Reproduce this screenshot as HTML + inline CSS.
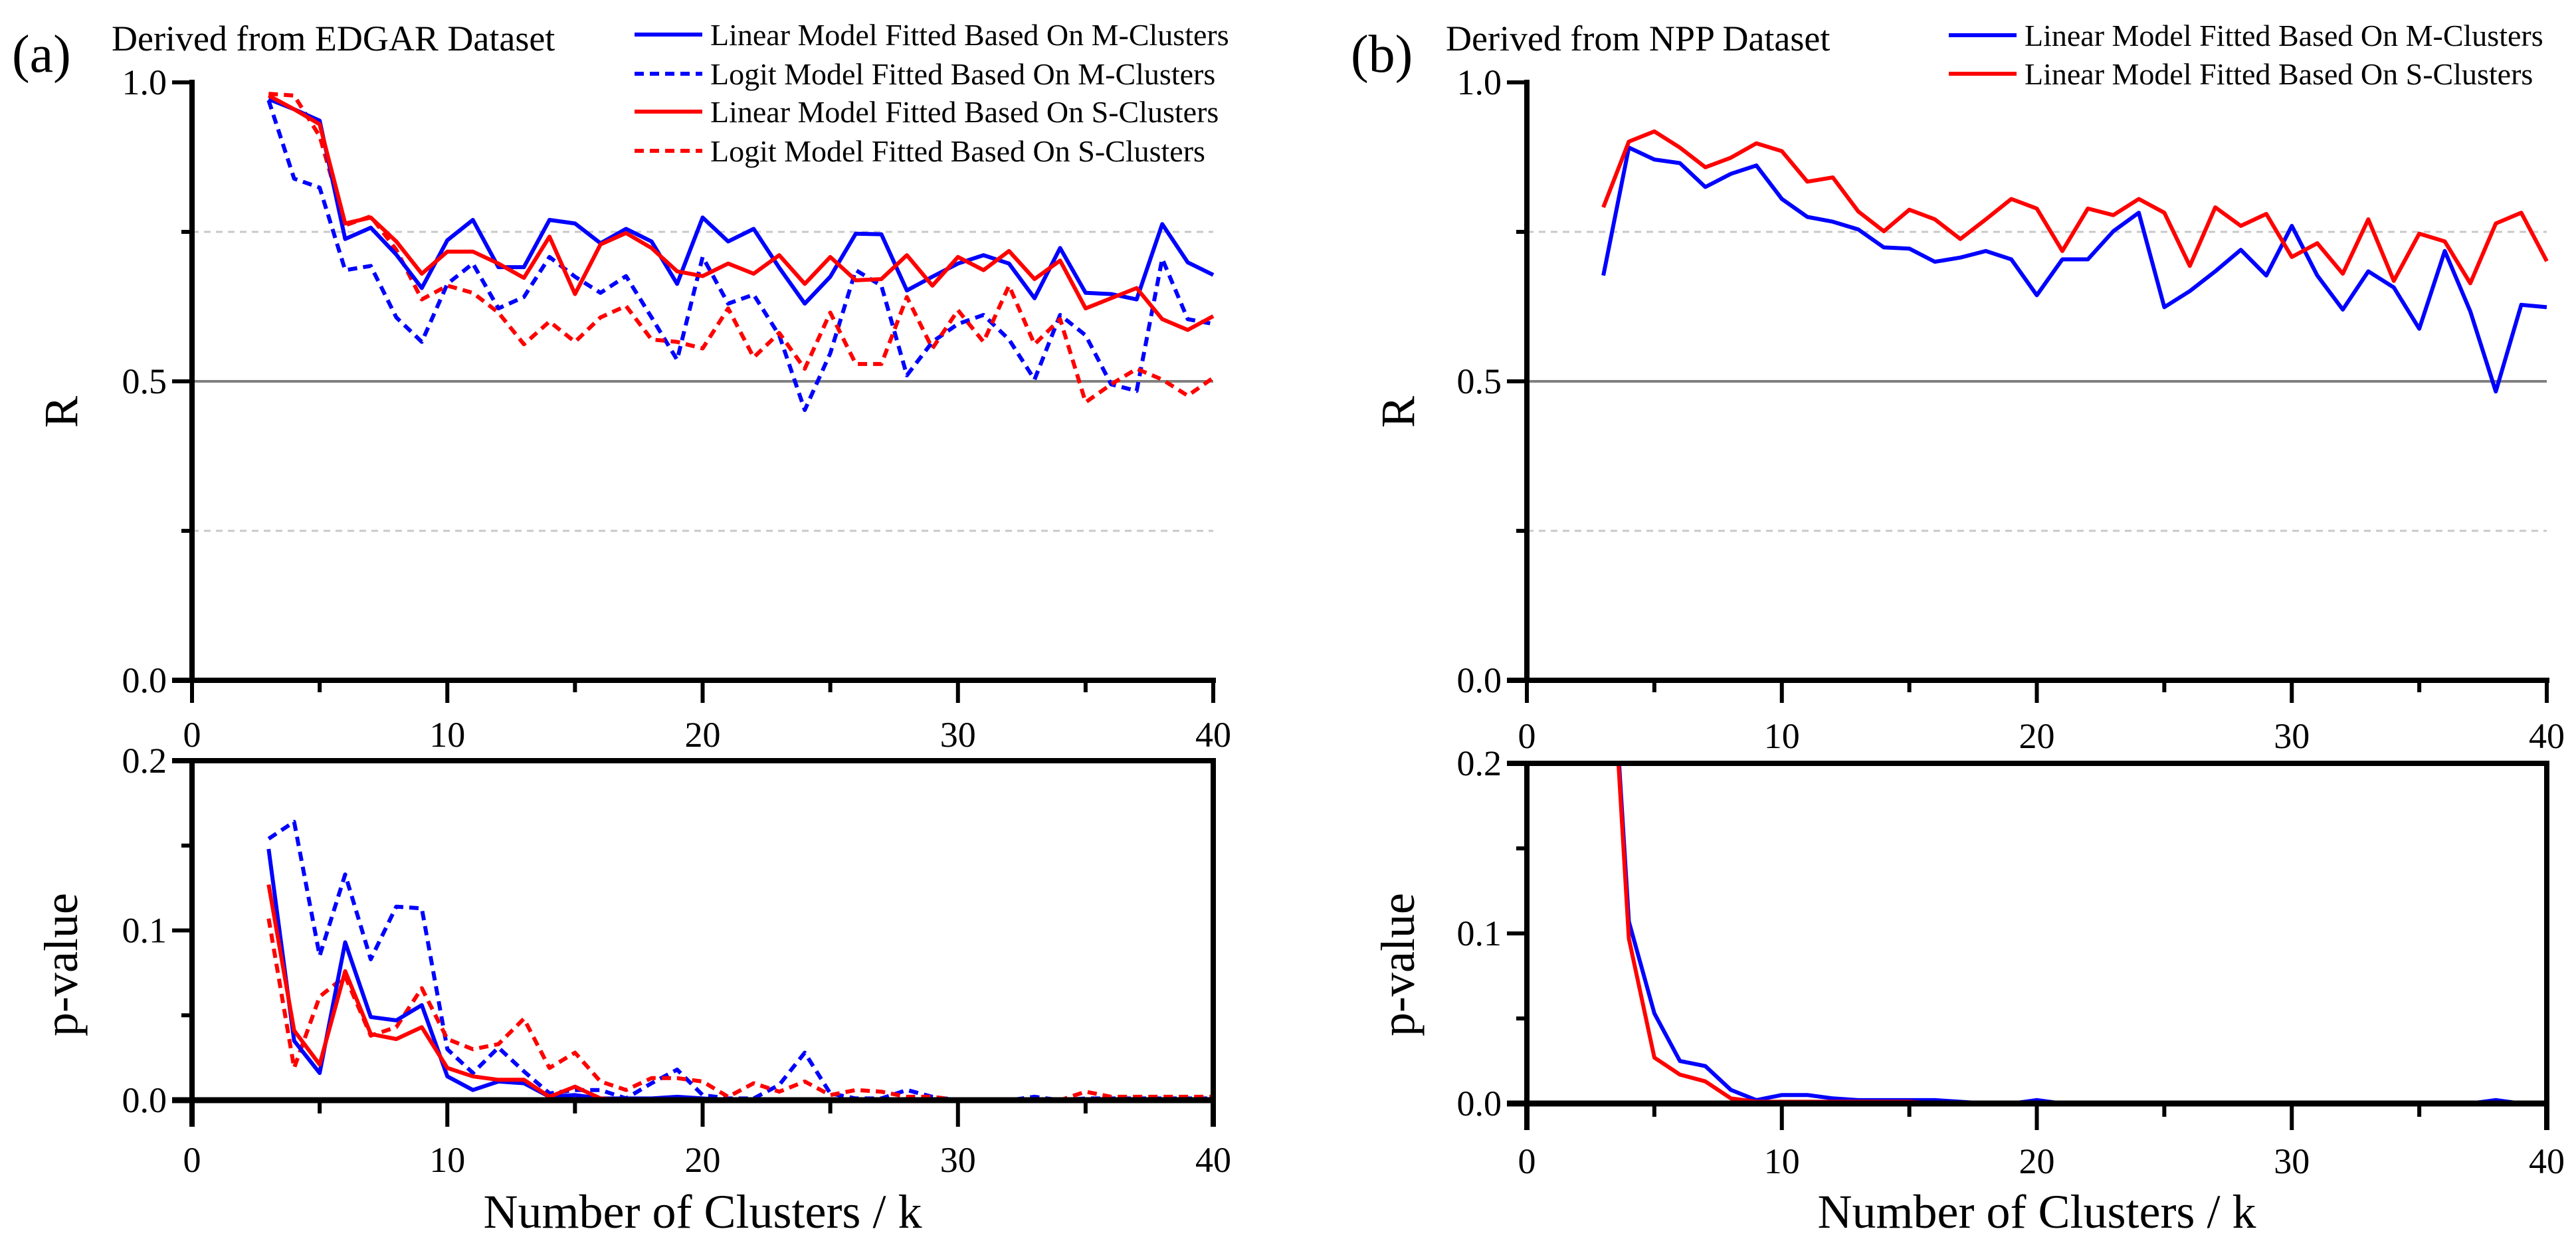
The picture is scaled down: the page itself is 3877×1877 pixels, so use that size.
<!DOCTYPE html>
<html><head><meta charset="utf-8">
<style>
html,body{margin:0;padding:0;background:#fff;}
svg{display:block;font-family:"Liberation Serif",serif;}
</style></head>
<body>
<svg id="fig" width="3877" height="1877" viewBox="0 0 3877 1877" xmlns="http://www.w3.org/2000/svg"></svg>
<script>
const ks = [3,4,5,6,7,8,9,10,11,12,13,14,15,16,17,18,19,20,21,22,23,24,25,26,27,28,29,30,31,32,33,34,35,36,37,38,39,40];
const xTicks = [0,10,20,30,40];
const rTicks = ["0.0","0.5","1.0"];
const pTicks = ["0.0","0.1","0.2"];
// Panel (a) R values
const aRLinM = [0.972,0.955,0.936,0.738,0.757,0.712,0.656,0.736,0.77,0.691,0.691,0.77,0.764,0.731,0.755,0.734,0.663,0.774,0.734,0.755,0.69,0.63,0.675,0.747,0.746,0.652,0.675,0.697,0.711,0.697,0.639,0.723,0.648,0.646,0.637,0.763,0.699,0.678];
const aRLogM = [0.97,0.839,0.824,0.686,0.693,0.607,0.566,0.663,0.697,0.622,0.641,0.708,0.675,0.648,0.676,0.607,0.536,0.708,0.63,0.645,0.577,0.452,0.547,0.686,0.66,0.51,0.566,0.596,0.611,0.57,0.503,0.611,0.577,0.495,0.484,0.705,0.604,0.596];
const aRLinS = [0.978,0.955,0.93,0.764,0.774,0.734,0.68,0.717,0.717,0.697,0.673,0.742,0.646,0.729,0.748,0.723,0.684,0.676,0.697,0.68,0.711,0.663,0.708,0.669,0.671,0.711,0.66,0.708,0.686,0.718,0.671,0.702,0.622,0.639,0.656,0.604,0.586,0.609];
const aRLogS = [0.981,0.978,0.91,0.761,0.776,0.72,0.637,0.66,0.648,0.615,0.562,0.6,0.566,0.607,0.626,0.57,0.566,0.555,0.622,0.54,0.581,0.521,0.615,0.529,0.529,0.641,0.555,0.619,0.566,0.66,0.562,0.604,0.465,0.495,0.521,0.503,0.476,0.506];
// Panel (a) p-values
const aPLinM = [0.148,0.035,0.016,0.093,0.049,0.047,0.056,0.014,0.006,0.011,0.01,0.002,0.003,0.001,0.001,0.001,0.002,0.001,0,0,0,0,0,0,0,0,0,0,0,0,0,0,0,0,0,0,0,0];
const aPLogM = [0.154,0.164,0.085,0.133,0.083,0.114,0.113,0.03,0.016,0.031,0.017,0.004,0.006,0.006,0.001,0.01,0.018,0.003,0.001,0.001,0.009,0.028,0.004,0.001,0.001,0.006,0.002,0,0,0,0.002,0,0.001,0.001,0.001,0.001,0.001,0.001];
const aPLinS = [0.127,0.041,0.021,0.076,0.039,0.036,0.043,0.019,0.014,0.012,0.012,0.002,0.008,0.001,0,0,0,0,0,0,0,0,0,0,0,0,0,0,0,0,0,0,0,0,0,0,0,0];
const aPLogS = [0.107,0.019,0.061,0.073,0.038,0.043,0.066,0.036,0.03,0.033,0.048,0.019,0.028,0.011,0.006,0.013,0.013,0.011,0.002,0.01,0.005,0.011,0.003,0.006,0.005,0.002,0.002,0,0,0,0,0,0.005,0.002,0.002,0.002,0.002,0.002];
// Panel (b)
const bRLinM = [0.677,0.891,0.871,0.865,0.825,0.847,0.861,0.805,0.775,0.767,0.754,0.724,0.722,0.7,0.707,0.718,0.704,0.644,0.704,0.704,0.751,0.782,0.624,0.651,0.684,0.72,0.677,0.76,0.677,0.62,0.684,0.657,0.588,0.718,0.617,0.483,0.628,0.624];
const bRLinS = [0.791,0.901,0.918,0.891,0.858,0.874,0.898,0.885,0.834,0.841,0.784,0.751,0.787,0.771,0.738,0.771,0.805,0.789,0.718,0.789,0.778,0.805,0.782,0.693,0.791,0.76,0.78,0.708,0.731,0.68,0.771,0.668,0.747,0.734,0.664,0.764,0.782,0.701];
const bPLinM = [0.35,0.107,0.053,0.025,0.022,0.008,0.002,0.005,0.005,0.003,0.002,0.002,0.002,0.002,0.001,0,0,0.002,0,0,0,0,0,0,0,0,0,0,0,0,0,0,0,0,0,0.002,0,0];
const bPLinS = [0.35,0.097,0.027,0.017,0.013,0.003,0.001,0.001,0.001,0.001,0.001,0.001,0.001,0,0,0,0,0,0,0,0,0,0,0,0,0,0,0,0,0,0,0,0,0,0,0,0,0];

const NS="http://www.w3.org/2000/svg";
const svg=document.getElementById('fig');
function mk(tag,attrs,parent){const e=document.createElementNS(NS,tag);for(const k in attrs)e.setAttribute(k,attrs[k]);(parent||svg).appendChild(e);return e;}
function txt(s,attrs,parent){const e=mk('text',attrs,parent);e.textContent=s;return e;}

const BLUE="#0000ff", RED="#ff0000";
function panel(cfg){
  const g=mk('g',{});
  
  
  const x0=cfg.x0,x1=cfg.x1;
  const sx=v=>x0+(x1-x0)*v/40;
  const rT=124,rB=1024;
  const sr=v=>rB-(rB-rT)*v;
  const pT=cfg.pT,pB=cfg.pB;
  const sp=v=>pB-(pB-pT)*v/0.2;
  [0.25,0.75].forEach(v=>{const l=mk('line',{x1:x0,x2:x1,y1:sr(v),y2:sr(v),stroke:'#c8c8c8','stroke-width':3,'stroke-dasharray':'10,8'},g);});
  const ml=mk('line',{x1:x0,x2:x1,y1:sr(0.5),y2:sr(0.5),stroke:'#808080','stroke-width':4},g);
  
  const cid=cfg.name+'-clip';
  const cp=mk('clipPath',{id:cid},g);mk('rect',{x:x0,y:pT,width:x1-x0+10,height:pB-pT+10},cp);
  function series(vals,scale,color,dash,name,clip){
    const pts=ks.map((k,i)=>sx(k).toFixed(1)+','+scale(vals[i]).toFixed(1)).join(' ');
    const a={points:pts,fill:'none',stroke:color,'stroke-width':6,'stroke-linejoin':'round'};
    if(dash)a['stroke-dasharray']='14,9';
    if(clip)a['clip-path']='url(#'+cid+')';
    const p=mk('polyline',a,g);
    
    
  }
  cfg.rSeries.forEach(s=>series(s[0],sr,s[1],s[2],'r-'+s[3],false));
  cfg.pSeries.forEach(s=>series(s[0],sp,s[1],s[2],'p-'+s[3],true));
  const ay=mk('line',{x1:x0,x2:x0,y1:rT-4,y2:rB+4,stroke:'#000','stroke-width':8},g);
  
  const ax=mk('line',{x1:x0-30,x2:x1+4,y1:rB,y2:rB,stroke:'#000','stroke-width':8},g);
  
  [0,0.25,0.5,0.75,1].forEach(v=>{mk('line',{x1:x0-(v*4%2===0?30:16),x2:x0,y1:sr(v),y2:sr(v),stroke:'#000','stroke-width':6},g);});
  rTicks.forEach(t=>{const e=txt(t,{x:x0-38,y:sr(+t)+18,'font-size':54,'text-anchor':'end'},g);});
  for(let v=0;v<=40;v+=5){mk('line',{x1:sx(v),x2:sx(v),y1:rB,y2:rB+(v%10===0?34:18),stroke:'#000','stroke-width':6},g);}
  xTicks.forEach(t=>{const e=txt(String(t),{x:sx(t),y:cfg.topLblY,'font-size':54,'text-anchor':'middle'},g);});
  const pf=mk('polyline',{points:`${x0-30},${pT} ${x1},${pT} ${x1},${pB+40}`,fill:'none',stroke:'#000','stroke-width':8},g);
  
  const py=mk('line',{x1:x0,x2:x0,y1:pT,y2:pB+40,stroke:'#000','stroke-width':8},g);
  
  const px=mk('line',{x1:x0-30,x2:x1,y1:pB,y2:pB,stroke:'#000','stroke-width':9},g);
  
  [0,0.05,0.1,0.15,0.2].forEach((v,i)=>{mk('line',{x1:x0-(i%2===0?30:16),x2:x0,y1:sp(v),y2:sp(v),stroke:'#000','stroke-width':6},g);});
  pTicks.forEach(t=>{const e=txt(t,{x:x0-38,y:sp(+t)+18,'font-size':54,'text-anchor':'end'},g);});
  for(let v=0;v<=40;v+=5){mk('line',{x1:sx(v),x2:sx(v),y1:pB,y2:pB+(v%10===0?40:20),stroke:'#000','stroke-width':6},g);}
  xTicks.forEach(t=>{const e=txt(String(t),{x:sx(t),y:cfg.botLblY,'font-size':54,'text-anchor':'middle'},g);});
  let e=txt('R',{x:0,y:0,'font-size':72,'text-anchor':'middle',transform:`translate(${cfg.rLblX},${620}) rotate(-90)`},g);
  
  e=txt('p-value',{x:0,y:0,'font-size':72,'text-anchor':'middle',transform:`translate(${cfg.rLblX},${1452}) rotate(-90)`},g);
  
  e=txt('Number of Clusters / k',{x:(x0+x1)/2,y:1848,'font-size':72,'text-anchor':'middle'},g);
  
  e=txt(cfg.tag,{x:cfg.tagX,y:108,'font-size':80},g);
  
  e=txt(cfg.title,{x:cfg.titleX,y:76,'font-size':54},g);
  
  cfg.legend.forEach((L,i)=>{
    const y=cfg.legY[i];
    const lg=mk('g',{},g);
    
    const la={x1:cfg.legX,x2:cfg.legX+102,y1:y,y2:y,stroke:L[1],'stroke-width':6};
    if(L[2])la['stroke-dasharray']='14,9';
    mk('line',la,lg);
    txt(L[0],{x:cfg.legX+114,y:y+16,'font-size':46},lg);
  });
}
panel({name:'panel-a',x0:289,x1:1826,pT:1145,pB:1656,topLblY:1124,botLblY:1764,rLblX:116,tag:'(a)',tagX:18,title:'Derived from EDGAR Dataset',titleX:168,
  rSeries:[[aRLogM,BLUE,true,'logit-m'],[aRLogS,RED,true,'logit-s'],[aRLinM,BLUE,false,'linear-m'],[aRLinS,RED,false,'linear-s']],
  pSeries:[[aPLogM,BLUE,true,'logit-m'],[aPLogS,RED,true,'logit-s'],[aPLinM,BLUE,false,'linear-m'],[aPLinS,RED,false,'linear-s']],
  legX:955,legY:[52,111,168,227],
  legend:[['Linear Model Fitted Based On M-Clusters',BLUE,false],['Logit Model Fitted Based On M-Clusters',BLUE,true],['Linear Model Fitted Based On S-Clusters',RED,false],['Logit Model Fitted Based On S-Clusters',RED,true]]});
panel({name:'panel-b',x0:2298,x1:3833,pT:1149,pB:1661,topLblY:1126,botLblY:1766,rLblX:2128,tag:'(b)',tagX:2033,title:'Derived from NPP Dataset',titleX:2176,
  rSeries:[[bRLinM,BLUE,false,'linear-m'],[bRLinS,RED,false,'linear-s']],
  pSeries:[[bPLinM,BLUE,false,'linear-m'],[bPLinS,RED,false,'linear-s']],
  legX:2933,legY:[53,111],
  legend:[['Linear Model Fitted Based On M-Clusters',BLUE,false],['Linear Model Fitted Based On S-Clusters',RED,false]]});
</script>
</body></html>
